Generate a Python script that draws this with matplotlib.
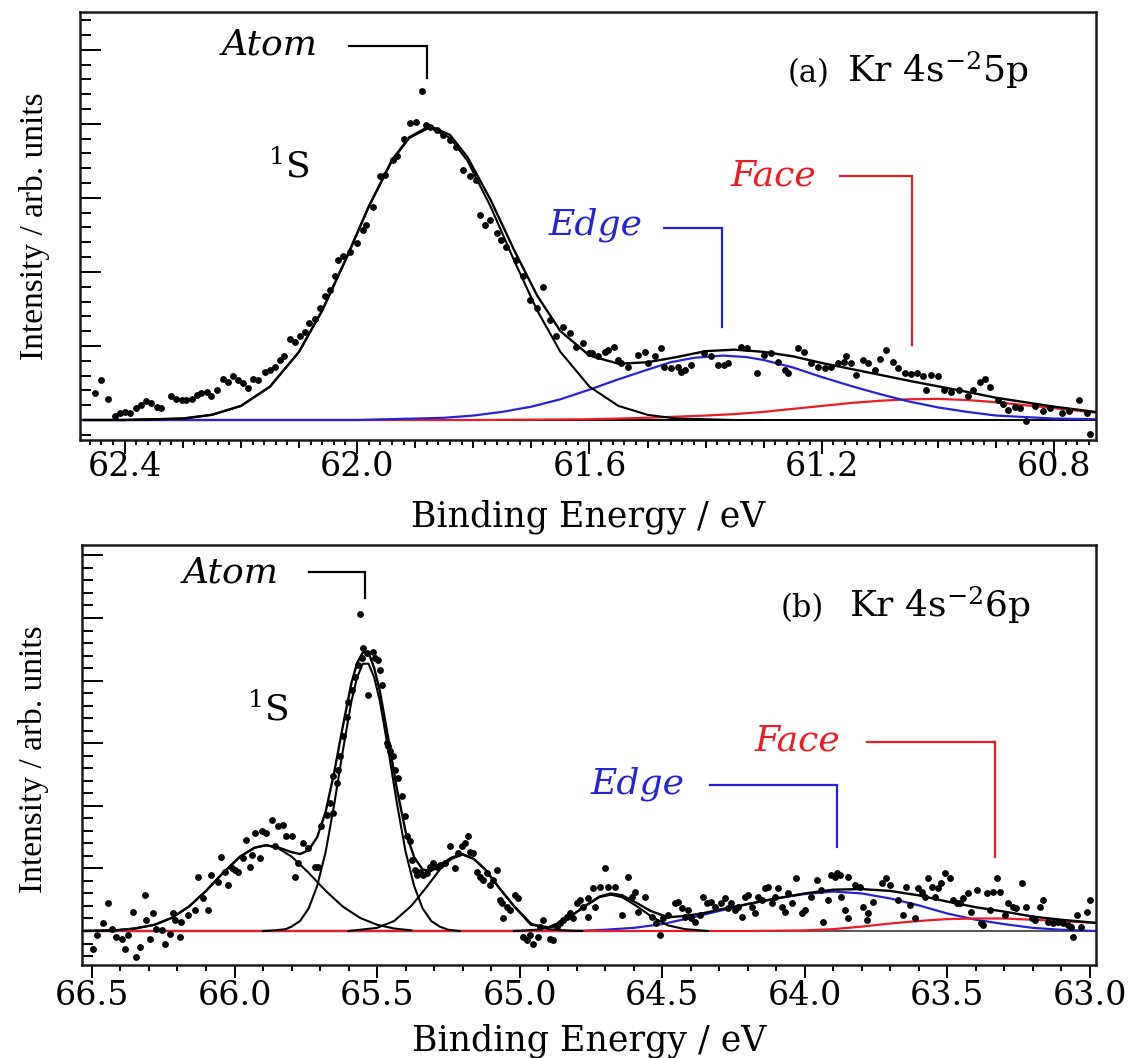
import numpy as np
import matplotlib.pyplot as plt
from matplotlib.ticker import MultipleLocator, FixedLocator, FuncFormatter

plt.rcParams['font.family'] = 'DejaVu Serif'
plt.rcParams['mathtext.fontset'] = 'dejavuserif'

BLUE = '#2424d6'
RED = '#ec1c24'

# ---------------- panel (a): Kr 4s^-2 5p ----------------
# measured points (binding energy, intensity)
a_points = np.array([
    (62.452, 0.36), (62.440, 0.54), (62.429, 0.29), (62.417, 0.05), (62.409, 0.09), (62.400, 0.11),
    (62.391, 0.10), (62.380, 0.16), (62.372, 0.20), (62.363, 0.25), (62.354, 0.23), (62.345, 0.18),
    (62.337, 0.16), (62.320, 0.32), (62.311, 0.29), (62.302, 0.27), (62.294, 0.27), (62.285, 0.29),
    (62.276, 0.34), (62.268, 0.36), (62.259, 0.38), (62.251, 0.32), (62.242, 0.41), (62.231, 0.56),
    (62.222, 0.52), (62.214, 0.59), (62.205, 0.54), (62.196, 0.50), (62.188, 0.43), (62.179, 0.56),
    (62.170, 0.54), (62.159, 0.65), (62.150, 0.68), (62.142, 0.72), (62.133, 0.81), (62.125, 0.86),
    (62.116, 1.10), (62.107, 1.06), (62.099, 1.13), (62.090, 1.19), (62.082, 1.31), (62.073, 1.37),
    (62.064, 1.51), (62.056, 1.67), (62.047, 1.76), (62.038, 1.94), (62.033, 2.16), (62.024, 2.21),
    (62.013, 2.27), (62.001, 2.39), (61.990, 2.57), (61.984, 2.63), (61.972, 2.88), (61.961, 3.29),
    (61.952, 3.31), (61.938, 3.51), (61.932, 3.56), (61.920, 3.80), (61.909, 4.01), (61.898, 4.02),
    (61.889, 4.44), (61.881, 3.99), (61.875, 3.96), (61.863, 3.92), (61.852, 3.85), (61.840, 3.78),
    (61.829, 3.69), (61.818, 3.38), (61.806, 3.29), (61.795, 3.24), (61.789, 2.77), (61.780, 2.63),
    (61.772, 2.70), (61.760, 2.52), (61.752, 2.43), (61.743, 2.34), (61.726, 2.16), (61.714, 1.94),
    (61.703, 1.62), (61.691, 1.51), (61.680, 1.80), (61.668, 1.35), (61.657, 1.13), (61.646, 1.26),
    (61.634, 1.17), (61.623, 0.99), (61.611, 1.04), (61.600, 0.90), (61.596, 0.90), (61.585, 0.86),
    (61.574, 0.92), (61.568, 0.95), (61.557, 0.99), (61.551, 0.81), (61.545, 0.77), (61.534, 0.72),
    (61.516, 0.88), (61.505, 0.92), (61.499, 0.77), (61.488, 0.86), (61.476, 0.97), (61.471, 0.72),
    (61.459, 0.70), (61.448, 0.72), (61.442, 0.65), (61.436, 0.68), (61.425, 0.74), (61.402, 0.90),
    (61.391, 0.86), (61.379, 0.74), (61.368, 0.74), (61.362, 0.77), (61.339, 0.99), (61.328, 0.97),
    (61.311, 0.63), (61.299, 0.88), (61.288, 0.90), (61.276, 0.79), (61.264, 0.68), (61.259, 0.63),
    (61.241, 0.97), (61.230, 0.92), (61.218, 0.77), (61.207, 0.72), (61.195, 0.70), (61.184, 0.72),
    (61.172, 0.77), (61.161, 0.79), (61.158, 0.86), (61.149, 0.77), (61.141, 0.61), (61.129, 0.81),
    (61.120, 0.77), (61.109, 0.68), (61.100, 0.83), (61.089, 0.95), (61.077, 0.79), (61.069, 0.70),
    (61.057, 0.63), (61.046, 0.62), (61.037, 0.63), (61.026, 0.59), (61.020, 0.41), (61.012, 0.61),
    (61.000, 0.60), (60.989, 0.40), (60.977, 0.38), (60.963, 0.40), (60.948, 0.32), (60.940, 0.41),
    (60.928, 0.52), (60.919, 0.56), (60.911, 0.45), (60.897, 0.27), (60.888, 0.22), (60.879, 0.14),
    (60.868, 0.18), (60.859, 0.16), (60.848, -0.02), (60.833, 0.19), (60.819, 0.12), (60.807, 0.16),
    (60.787, 0.10), (60.775, 0.12), (60.758, 0.27), (60.744, 0.09), (60.738, -0.19),
])

# fitted components
a_atom_x = [62.47, 62.40, 62.35, 62.30, 62.25, 62.20, 62.15, 62.10, 62.06, 62.02, 61.98, 61.94, 61.91,
            61.875, 61.84, 61.81, 61.77, 61.73, 61.69, 61.65, 61.60, 61.55, 61.50, 61.45, 61.40, 61.35, 61.30]
a_atom_y = [0.0, 0.0, 0.01, 0.02, 0.07, 0.19, 0.45, 0.92, 1.48, 2.16, 2.88, 3.50, 3.81,
            3.95, 3.81, 3.50, 2.88, 2.16, 1.48, 0.92, 0.45, 0.19, 0.07, 0.02, 0.01, 0.0, 0.0]

a_edge_x = [62.48, 62.10, 62.00, 61.90, 61.85, 61.80, 61.75, 61.70, 61.65, 61.60, 61.55, 61.50, 61.46, 61.42,
            61.37, 61.33, 61.30, 61.25, 61.20, 61.15, 61.10, 61.05, 61.00, 60.95, 60.90, 60.85, 60.80, 60.73]
a_edge_y = [0.0, 0.0, 0.0, 0.02, 0.03, 0.06, 0.11, 0.18, 0.28, 0.41, 0.55, 0.68, 0.78, 0.84,
            0.87, 0.85, 0.81, 0.71, 0.58, 0.46, 0.35, 0.25, 0.17, 0.11, 0.06, 0.04, 0.02, 0.01]

a_face_x = [62.48, 61.80, 61.70, 61.60, 61.50, 61.40, 61.35, 61.30, 61.25, 61.20, 61.15, 61.10, 61.05,
            61.00, 60.95, 60.90, 60.85, 60.80, 60.73]
a_face_y = [0.0, 0.0, 0.005, 0.01, 0.03, 0.06, 0.08, 0.11, 0.15, 0.19, 0.23, 0.26, 0.28,
            0.285, 0.27, 0.24, 0.20, 0.16, 0.10]

a_tot_x = [62.47, 62.40, 62.35, 62.30, 62.25, 62.20, 62.15, 62.10, 62.06, 62.02, 61.98, 61.94, 61.91,
           61.875, 61.84, 61.81, 61.77, 61.73, 61.69, 61.65, 61.60, 61.55, 61.50, 61.45, 61.40, 61.35,
           61.30, 61.25, 61.20, 61.15, 61.10, 61.05, 61.00, 60.95, 60.90, 60.85, 60.80, 60.73]
a_tot_y = [0.0, 0.0, 0.01, 0.02, 0.07, 0.19, 0.45, 0.92, 1.48, 2.16, 2.88, 3.51, 3.82,
           3.97, 3.85, 3.55, 2.97, 2.30, 1.68, 1.20, 0.87, 0.76, 0.78, 0.85, 0.93, 0.95,
           0.92, 0.86, 0.77, 0.69, 0.61, 0.53, 0.455, 0.38, 0.30, 0.24, 0.18, 0.11]

# ---------------- panel (b): Kr 4s^-2 6p ----------------
b_points = np.array([
    (66.496, -0.28), (66.484, -0.06), (66.461, 0.12), (66.443, 0.44), (66.431, 0.04), (66.414, -0.09),
    (66.396, -0.12), (66.385, -0.28), (66.373, -0.06), (66.355, 0.31), (66.344, -0.41), (66.332, -0.25),
    (66.315, 0.58), (66.309, 0.18), (66.297, -0.12), (66.285, 0.28), (66.274, 0.04), (66.256, 0.02),
    (66.244, -0.20), (66.227, -0.04), (66.215, 0.28), (66.209, 0.18), (66.192, -0.09), (66.186, 0.15),
    (66.162, 0.26), (66.139, 0.34), (66.127, 0.87), (66.110, 0.52), (66.092, 0.34), (66.081, 0.90),
    (66.057, 0.79), (66.046, 1.19), (66.034, 0.95), (66.022, 0.74), (66.010, 1.00), (65.999, 0.98),
    (65.987, 0.95), (65.970, 1.16), (65.958, 1.45), (65.946, 1.03), (65.940, 1.21), (65.929, 1.56),
    (65.911, 1.16), (65.905, 1.59), (65.888, 1.56), (65.870, 1.77), (65.858, 1.35), (65.847, 1.67),
    (65.829, 1.69), (65.818, 1.51), (65.800, 1.51), (65.788, 0.87), (65.777, 1.08), (65.759, 1.40),
    (65.742, 1.32), (65.718, 1.03), (65.707, 1.03), (65.695, 1.67), (65.677, 1.85), (65.666, 2.04),
    (65.654, 2.47), (65.653, 1.88), (65.642, 2.36), (65.636, 2.57), (65.630, 2.79), (65.618, 3.11),
    (65.607, 3.42), (65.601, 3.66), (65.589, 3.85), (65.577, 4.06), (65.566, 4.25), (65.554, 4.36),
    (65.548, 4.52), (65.536, 4.44), (65.560, 5.07), (65.531, 3.77), (65.513, 4.46), (65.507, 4.36),
    (65.495, 4.33), (65.490, 4.17), (65.484, 3.93), (65.466, 3.00), (65.460, 2.95), (65.455, 2.87),
    (65.443, 2.79), (65.437, 2.57), (65.425, 2.44), (65.414, 2.15), (65.402, 1.83), (65.396, 1.51),
    (65.384, 1.43), (65.379, 1.13), (65.367, 0.98), (65.361, 0.90), (65.349, 0.95), (65.338, 0.90),
    (65.326, 0.92), (65.314, 1.03), (65.303, 1.08), (65.291, 1.03), (65.279, 1.06), (65.262, 1.08),
    (65.244, 1.35), (65.227, 1.00), (65.215, 1.24), (65.203, 1.35), (65.191, 1.40), (65.180, 1.51),
    (65.174, 1.27), (65.162, 1.24), (65.151, 0.95), (65.139, 0.87), (65.127, 0.82), (65.115, 0.92),
    (65.104, 0.74), (65.092, 0.82), (65.080, 0.98), (65.069, 0.50), (65.063, 0.44), (65.057, 0.20),
    (65.045, 0.39), (65.034, 0.34), (65.016, 0.58), (65.004, 0.52), (64.987, -0.09), (64.975, -0.14),
    (64.963, -0.06), (64.952, -0.20), (64.934, -0.09), (64.928, 0.07), (64.917, 0.18), (64.893, -0.12),
    (64.882, -0.14), (64.870, 0.07), (64.858, 0.12), (64.847, 0.18), (64.835, 0.23), (64.823, 0.28),
    (64.812, 0.20), (64.800, 0.44), (64.788, 0.50), (64.776, 0.39), (64.759, 0.52), (64.741, 0.68),
    (64.759, 0.23), (64.736, 0.39), (64.718, 0.71), (64.701, 1.00), (64.689, 0.71), (64.666, 0.71),
    (64.642, 0.26), (64.619, 0.87), (64.607, 0.55), (64.596, 0.63), (64.584, 0.31), (64.561, 0.55),
    (64.537, 0.23), (64.520, 0.12), (64.508, -0.06), (64.496, 0.20), (64.479, 0.26), (64.455, 0.44),
    (64.444, 0.47), (64.432, 0.36), (64.420, 0.23), (64.409, 0.34), (64.397, 0.20), (64.385, 0.15),
    (64.368, 0.26), (64.356, 0.55), (64.344, 0.44), (64.327, 0.47), (64.315, 0.39), (64.292, 0.44),
    (64.280, 0.52), (64.268, 0.36), (64.257, 0.44), (64.245, 0.34), (64.233, 0.39), (64.221, 0.23),
    (64.210, 0.55), (64.198, 0.58), (64.186, 0.39), (64.175, 0.28), (64.163, 0.55), (64.151, 0.50),
    (64.140, 0.68), (64.128, 0.71), (64.116, 0.44), (64.105, 0.55), (64.093, 0.68), (64.081, 0.39),
    (64.070, 0.31), (64.058, 0.60), (64.046, 0.44), (64.029, 0.84), (64.011, 0.28), (64.000, 0.34),
    (63.976, 0.55), (63.958, 0.81), (63.941, 0.65), (63.935, 0.15), (63.918, 0.50), (63.906, 0.89),
    (63.888, 0.92), (63.871, 0.55), (63.859, 0.34), (63.847, 0.87), (63.894, 0.87), (63.876, 0.89),
    (63.847, 0.20), (63.824, 0.73), (63.806, 0.71), (63.795, 0.39), (63.783, 0.18), (63.777, 0.28),
    (63.760, 0.47), (63.730, 0.76), (63.713, 0.84), (63.701, 0.73), (63.672, 0.50), (63.654, 0.26),
    (63.643, 0.71), (63.631, 0.42), (63.613, 0.20), (63.602, 0.68), (63.590, 0.63), (63.578, 0.55),
    (63.567, 0.84), (63.555, 0.71), (63.543, 0.55), (63.532, 0.68), (63.520, 0.76), (63.508, 0.92),
    (63.491, 0.84), (63.479, 0.50), (63.467, 0.44), (63.456, 0.44), (63.444, 0.52), (63.426, 0.60),
    (63.415, 0.31), (63.397, 0.66), (63.380, 0.12), (63.374, 0.10), (63.362, 0.60), (63.350, 0.34),
    (63.339, 0.63), (63.327, 0.84), (63.315, 0.63), (63.298, 0.26), (63.286, 0.44), (63.268, 0.39),
    (63.257, 0.36), (63.239, 0.76), (63.222, 0.39), (63.204, 0.20), (63.192, 0.18), (63.175, 0.39),
    (63.163, 0.50), (63.146, 0.15), (63.128, 0.12), (63.111, 0.15), (63.093, 0.12), (63.076, 0.10),
    (63.064, 0.07), (63.058, -0.09), (63.046, 0.26), (63.029, 0.07), (63.011, 0.31), (62.999, 0.50),
])

b_atom_x = [65.90, 65.86, 65.82, 65.80, 65.77, 65.74, 65.71, 65.68, 65.65, 65.62, 65.59, 65.57, 65.55,
            65.53, 65.51, 65.49, 65.46, 65.43, 65.40, 65.37, 65.34, 65.31, 65.28, 65.25, 65.21]
b_atom_y = [0.0, 0.01, 0.03, 0.07, 0.16, 0.36, 0.72, 1.27, 2.03, 2.88, 3.67, 4.05, 4.27,
            4.27, 4.05, 3.67, 2.88, 2.03, 1.27, 0.72, 0.36, 0.16, 0.07, 0.02, 0.0]

b_sat1_x = [66.54, 66.42, 66.35, 66.28, 66.22, 66.16, 66.10, 66.04, 65.98, 65.93, 65.89, 65.85, 65.80,
            65.74, 65.68, 65.62, 65.56, 65.50, 65.44, 65.38]
b_sat1_y = [0.0, 0.01, 0.04, 0.10, 0.21, 0.39, 0.64, 0.93, 1.19, 1.33, 1.37, 1.33, 1.19,
            0.93, 0.64, 0.39, 0.21, 0.10, 0.04, 0.01]

b_sat2_x = [65.60, 65.50, 65.44, 65.38, 65.33, 65.28, 65.24, 65.20, 65.16, 65.12, 65.07, 65.02,
            64.96, 64.90, 64.84, 64.78]
b_sat2_y = [0.0, 0.05, 0.16, 0.40, 0.68, 0.98, 1.15, 1.22, 1.15, 0.98, 0.68, 0.40,
            0.12, 0.03, 0.01, 0.0]

b_small_x = [65.02, 64.94, 64.88, 64.82, 64.77, 64.72, 64.68, 64.64, 64.59, 64.54, 64.48, 64.42, 64.34]
b_small_y = [0.0, 0.02, 0.07, 0.24, 0.40, 0.54, 0.58, 0.54, 0.40, 0.24, 0.09, 0.03, 0.0]

b_edge_x = [66.54, 64.80, 64.70, 64.60, 64.50, 64.40, 64.30, 64.20, 64.10, 64.00, 63.90, 63.80,
            63.70, 63.60, 63.50, 63.40, 63.30, 63.20, 63.10, 62.98]
b_edge_y = [0.0, 0.0, 0.02, 0.05, 0.11, 0.21, 0.32, 0.43, 0.52, 0.59, 0.63, 0.60,
            0.52, 0.41, 0.28, 0.18, 0.11, 0.05, 0.02, 0.0]

b_face_x = [66.54, 64.20, 64.00, 63.90, 63.80, 63.70, 63.60, 63.50, 63.40, 63.30, 63.20, 63.10, 62.98]
b_face_y = [0.0, 0.0, 0.01, 0.03, 0.07, 0.12, 0.16, 0.19, 0.20, 0.20, 0.18, 0.16, 0.13]

b_tot_x = [66.54, 66.42, 66.35, 66.28, 66.22, 66.16, 66.10, 66.04, 65.98, 65.93, 65.89, 65.85, 65.80,
           65.77, 65.74, 65.71, 65.68, 65.65, 65.62, 65.59, 65.57, 65.55, 65.53, 65.51, 65.49, 65.46,
           65.43, 65.40, 65.37, 65.34, 65.31, 65.28, 65.24, 65.20, 65.16, 65.12, 65.07, 65.02, 64.96,
           64.90, 64.84, 64.77, 64.72, 64.68, 64.64, 64.59, 64.54, 64.48, 64.42, 64.36, 64.30, 64.20,
           64.10, 64.00, 63.90, 63.80, 63.70, 63.60, 63.50, 63.40, 63.30, 63.20, 63.10, 62.98]
b_tot_y = [0.0, 0.01, 0.04, 0.10, 0.21, 0.39, 0.64, 0.93, 1.19, 1.33, 1.37, 1.34, 1.26,
           1.23, 1.29, 1.50, 1.91, 2.54, 3.27, 3.96, 4.28, 4.45, 4.45, 4.20, 3.83, 3.06,
           2.26, 1.59, 1.18, 0.98, 0.96, 1.05, 1.17, 1.23, 1.15, 0.98, 0.68, 0.40, 0.10,
           0.06, 0.17, 0.40, 0.55, 0.60, 0.57, 0.45, 0.32, 0.22, 0.24, 0.28, 0.34, 0.43,
           0.52, 0.60, 0.66, 0.67, 0.64, 0.57, 0.47, 0.38, 0.31, 0.23, 0.18, 0.13]

W, H = 1138, 1058
fig = plt.figure(figsize=(W / 100, H / 100), dpi=100)
ax1 = fig.add_axes([80 / W, 1 - 440 / H, 1016 / W, 428 / H])
ax2 = fig.add_axes([82 / W, 1 - 965 / H, 1014 / W, 420 / H])


def frame(ax, xlim, ylim):
    ax.set_xlim(*xlim)
    ax.set_ylim(*ylim)
    for s in ax.spines.values():
        s.set_linewidth(1.8)
        s.set_color('#1a1a1a')
    ax.yaxis.set_major_locator(MultipleLocator(1))
    ax.yaxis.set_minor_locator(MultipleLocator(0.2))
    ax.tick_params(axis='y', which='both', direction='in', left=True, right=False,
                   labelleft=False, width=1.4)
    ax.tick_params(axis='y', which='major', length=15)
    ax.tick_params(axis='y', which='minor', length=8)
    ax.tick_params(axis='x', which='both', direction='out', top=False, width=1.4,
                   labelsize=24, pad=2)
    ax.set_xlabel('Binding Energy / eV', fontsize=25)
    ax.xaxis.set_label_coords(0.5, -0.14)
    ax.set_ylabel('Intensity / arb. units', family='Liberation Serif', fontsize=24)


def bracket(ax, x0, x1, y0, y1, color):
    ax.plot([x0, x1, x1], [y0, y0, y1], color=color, lw=1.6, solid_joinstyle='miter')


# ---- top panel ----
ax1.axhline(0, color='black', lw=1.4)
ax1.plot(a_face_x, a_face_y, color=RED, lw=1.6)
ax1.plot(a_edge_x, a_edge_y, color=BLUE, lw=1.6)
ax1.plot(a_atom_x, a_atom_y, color='black', lw=1.5)
ax1.plot(a_tot_x, a_tot_y, color='black', lw=1.7)
ax1.plot(a_points[:, 0], a_points[:, 1], 'o', color='black', ms=3.9, zorder=3)

frame(ax1, (62.477, 60.728), (-0.27, 5.51))
ax1.yaxis.set_label_coords(-0.03, 0.5)
ax1.xaxis.set_major_locator(FixedLocator(np.round(np.arange(60.8, 62.45, 0.1), 1)))
ax1.xaxis.set_minor_locator(MultipleLocator(0.02))
ax1.xaxis.set_major_formatter(FuncFormatter(
    lambda v, p: f'{v:.1f}' if round(v * 10) % 4 == 0 else ''))
ax1.tick_params(axis='x', which='major', length=6)
ax1.tick_params(axis='x', which='minor', length=3.5)
locs = ax1.xaxis.get_majorticklocs()
for loc, t in zip(locs, ax1.xaxis.get_major_ticks(len(locs))):
    if round(loc * 10) % 4 == 0:
        t.tick1line.set_markersize(10)

ax1.text(62.150, 5.07, 'Atom', style='italic', fontsize=26, ha='center', va='center')
bracket(ax1, 62.014, 61.880, 5.05, 4.62, 'black')
ax1.text(61.589, 2.64, 'Edge', style='italic', fontsize=26, color=BLUE, ha='center', va='center')
bracket(ax1, 61.472, 61.372, 2.59, 1.26, BLUE)
ax1.text(61.283, 3.30, 'Face', style='italic', fontsize=26, color=RED, ha='center', va='center')
bracket(ax1, 61.169, 61.045, 3.30, 1.01, RED)
ax1.text(62.154, 3.28, r'${}^{1}$S', fontsize=26, ha='left', va='baseline')
ax1.text(61.222, 4.57, '(a)', fontsize=22, ha='center', va='baseline')
ax1.text(61.157, 4.57, r'Kr 4s$^{\mathregular{-2}}$5p', fontsize=26, ha='left', va='baseline')

# ---- bottom panel ----
ax2.axhline(0, color='#555555', lw=1.4)
ax2.plot(b_edge_x, b_edge_y, color=BLUE, lw=1.6)
ax2.plot(b_face_x, b_face_y, color=RED, lw=1.6)
ax2.plot(b_sat1_x, b_sat1_y, color='black', lw=1.5)
ax2.plot(b_atom_x, b_atom_y, color='black', lw=1.5)
ax2.plot(b_sat2_x, b_sat2_y, color='black', lw=1.5)
ax2.plot(b_small_x, b_small_y, color='black', lw=1.5)
ax2.plot(b_tot_x, b_tot_y, color='black', lw=1.7)
ax2.plot(b_points[:, 0], b_points[:, 1], 'o', color='black', ms=3.9, zorder=3)

frame(ax2, (66.535, 62.978), (-0.543, 6.166))
ax2.yaxis.set_label_coords(-0.033, 0.49)
ax2.xaxis.set_major_locator(MultipleLocator(0.5))
ax2.xaxis.set_minor_locator(MultipleLocator(0.1))
ax2.xaxis.set_major_formatter(FuncFormatter(lambda v, p: f'{v:.1f}'))
ax2.tick_params(axis='x', which='major', length=9)
ax2.tick_params(axis='x', which='minor', length=4)

ax2.text(66.012, 5.72, 'Atom', style='italic', fontsize=26, ha='center', va='center')
bracket(ax2, 65.739, 65.542, 5.73, 5.32, 'black')
ax2.text(64.585, 2.35, 'Edge', style='italic', fontsize=26, color=BLUE, ha='center', va='center')
bracket(ax2, 64.332, 63.887, 2.33, 1.34, BLUE)
ax2.text(64.027, 3.04, 'Face', style='italic', fontsize=26, color=RED, ha='center', va='center')
bracket(ax2, 63.782, 63.333, 3.02, 1.18, RED)
ax2.text(65.956, 3.37, r'${}^{1}$S', fontsize=26, ha='left', va='baseline')
ax2.text(64.010, 5.02, '(b)', fontsize=22, ha='center', va='baseline')
ax2.text(63.845, 5.02, r'Kr 4s$^{\mathregular{-2}}$6p', fontsize=26, ha='left', va='baseline')

fig.savefig('out.png', dpi=100)
